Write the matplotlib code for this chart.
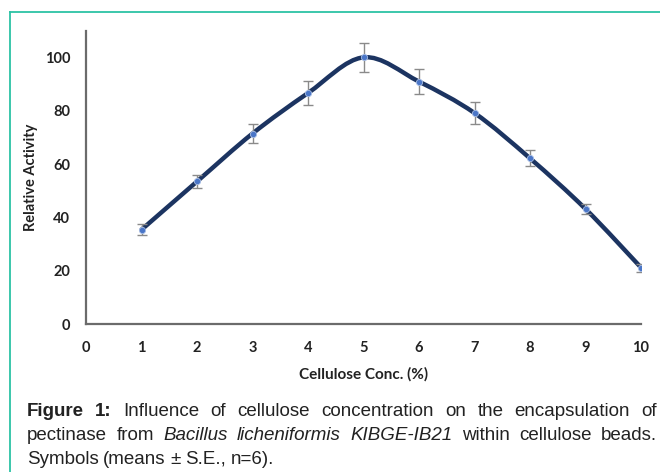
import matplotlib
matplotlib.use("Agg")
import matplotlib.pyplot as plt
from matplotlib.path import Path
from matplotlib.patches import PathPatch
from matplotlib.lines import Line2D

conc = [1, 2, 3, 4, 5, 6, 7, 8, 9, 10]
activity = [35.4, 53.5, 71.5, 86.7, 100.1, 91.0, 79.2, 62.2, 43.2, 21.2]
err = [2.0, 2.6, 3.4, 4.4, 5.4, 4.7, 4.0, 3.0, 2.0, 1.5]
x_ticks = list(range(0, 11))
y_ticks = [0, 20, 40, 60, 80, 100]

caption = [
    [("Figure", "bold"), ("1:", "bold"), ("Influence", "normal"), ("of", "normal"),
     ("cellulose", "normal"), ("concentration", "normal"), ("on", "normal"),
     ("the", "normal"), ("encapsulation", "normal"), ("of", "normal")],
    [("pectinase", "normal"), ("from", "normal"), ("Bacillus", "italic"),
     ("licheniformis", "italic"), ("KIBGE-IB21", "italic"), ("within", "normal"),
     ("cellulose", "normal"), ("beads.", "normal")],
    [("Symbols", "normal"), ("(means", "normal"), ("±", "normal"),
     ("S.E.,", "normal"), ("n=6).", "normal")],
]

W, H = 660, 472
fig = plt.figure(figsize=(6.6, 4.72), dpi=100)

# teal frame (top and left edges only visible)
teal = "#2cc3a5"
fig.add_artist(Line2D([10.5 / W, 10.5 / W], [0, 1 - 12 / H], color=teal, lw=1.3))
fig.add_artist(Line2D([10.5 / W, 1], [1 - 12 / H, 1 - 12 / H], color=teal, lw=1.3))

ax = fig.add_axes([86 / W, 1 - 324 / H, (641 - 86) / W, (324 - 31) / H])
ax.set_xlim(0, 10)
ax.set_ylim(0, 110)
for s in ["top", "right"]:
    ax.spines[s].set_visible(False)
for s in ["left", "bottom"]:
    ax.spines[s].set_color("#6b6b6b")
    ax.spines[s].set_linewidth(1.6)
ax.set_xticks(x_ticks)
ax.set_yticks(y_ticks)
ax.tick_params(length=0, labelsize=10.5)
ax.tick_params(axis="x", pad=12)
ax.tick_params(axis="y", pad=11.5)
for lab in ax.get_xticklabels() + ax.get_yticklabels():
    lab.set_fontfamily("Lato")
    lab.set_fontweight("bold")
    lab.set_color("#222222")

# smoothed line through the points (Catmull-Rom as cubic Bezier)
pts = list(zip(conc, activity))
ext = [pts[0]] + pts + [pts[-1]]
verts = [pts[0]]
codes = [Path.MOVETO]
for i in range(1, len(ext) - 2):
    p0, p1, p2, p3 = ext[i - 1], ext[i], ext[i + 1], ext[i + 2]
    c1 = (p1[0] + (p2[0] - p0[0]) / 6, p1[1] + (p2[1] - p0[1]) / 6)
    c2 = (p2[0] - (p3[0] - p1[0]) / 6, p2[1] - (p3[1] - p1[1]) / 6)
    verts += [c1, c2, p2]
    codes += [Path.CURVE4] * 3
ax.add_patch(PathPatch(Path(verts, codes), facecolor="none", edgecolor="#1c3461",
                       lw=3.2, capstyle="round", zorder=2))

ax.errorbar(conc, activity, yerr=err, fmt="none", ecolor="#8a8a8a",
            elinewidth=1.0, capsize=3.5, capthick=1.0, zorder=3)
ax.plot(conc, activity, "o", ms=4.5, mfc="#4a76c8", mec="#a9bfe6", mew=0.6, zorder=4)

ax.set_ylabel("Relative Activity", fontfamily="Lato", fontweight="bold",
              fontsize=10.5, color="#222222", labelpad=5)
ax.set_xlabel("Cellulose Conc. (%)", fontfamily="Lato", fontweight="bold",
              fontsize=11, color="#222222", labelpad=9)

# justified caption
renderer = fig.canvas.get_renderer()
x0, x1 = 27, 657
baselines = [416, 440, 464]
for li, line in enumerate(caption):
    texts = []
    for word, style in line:
        t = fig.text(0, 1 - baselines[li] / H, word, fontfamily="Liberation Sans",
                     fontsize=13.5, color="#222222", va="baseline",
                     fontweight="bold" if style == "bold" else "normal",
                     fontstyle="italic" if style == "italic" else "normal")
        texts.append(t)
    widths = [t.get_window_extent(renderer).width for t in texts]
    if li < len(caption) - 1:
        gap = (x1 - x0 - sum(widths)) / (len(texts) - 1)
    else:
        gap = 4.5
    x = x0
    for t, w in zip(texts, widths):
        t.set_x(x / W)
        x += w + gap

fig.savefig("out.png", dpi=100)
